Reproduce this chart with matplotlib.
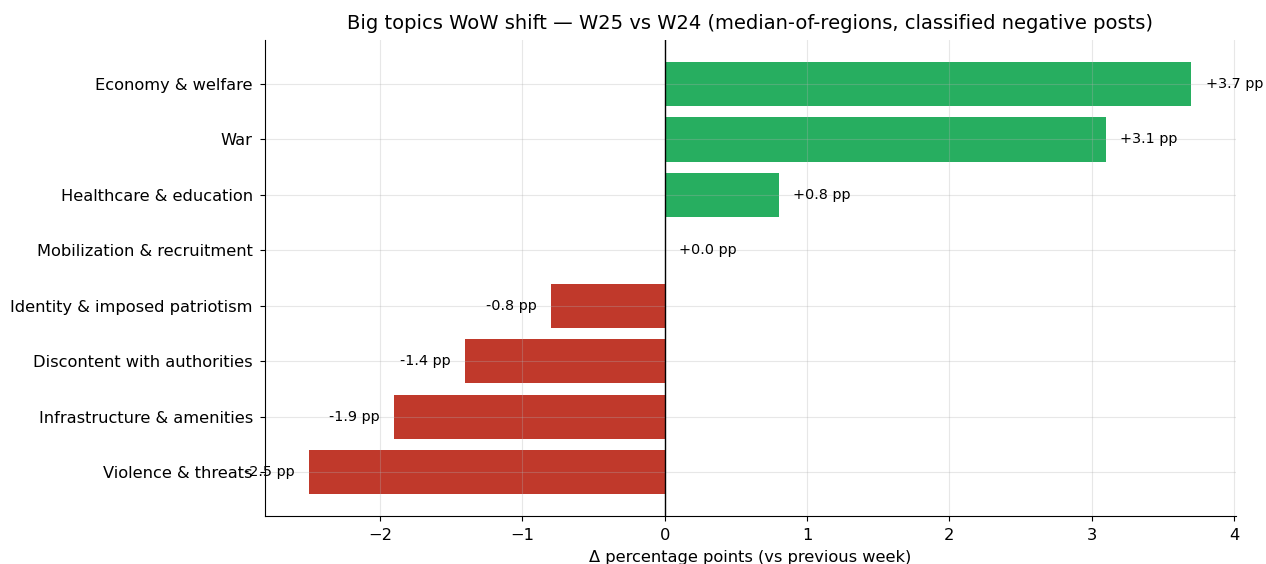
import matplotlib
matplotlib.use("Agg")
import matplotlib.pyplot as plt
import numpy as np

topics = [
    "Economy & welfare",
    "War",
    "Healthcare & education",
    "Mobilization & recruitment",
    "Identity & imposed patriotism",
    "Discontent with authorities",
    "Infrastructure & amenities",
    "Violence & threats",
]
delta_pp = [3.7, 3.1, 0.8, 0.0, -0.8, -1.4, -1.9, -2.5]

fig, ax = plt.subplots(figsize=(12.66, 5.64), dpi=100)

y = np.arange(len(topics))[::-1]
colors = ["#27ae60" if v >= 0 else "#c0392b" for v in delta_pp]
ax.barh(y, delta_pp, color=colors)
ax.axvline(0, color="black", linewidth=1)

for yi, v in zip(y, delta_pp):
    off = 0.1 if v >= 0 else -0.1
    ax.text(v + off, yi, f"{v:+.1f} pp", va="center",
            ha="left" if v >= 0 else "right", fontsize=10.4)

ax.set_yticks(y)
ax.set_yticklabels(topics, fontsize=11.7)
ax.tick_params(axis="y", pad=5)
ax.tick_params(axis="x", labelsize=11.7, pad=5)
ax.set_xlabel("Δ percentage points (vs previous week)", fontsize=11.7, labelpad=5)
ax.set_title("Big topics WoW shift — W25 vs W24 (median-of-regions, classified negative posts)",
             fontsize=14, pad=8)
ax.grid(True, alpha=0.3)
ax.spines["top"].set_visible(False)
ax.spines["right"].set_visible(False)

fig.subplots_adjust(left=0.209, right=0.976, top=0.929, bottom=0.085)
fig.savefig("out.png")
